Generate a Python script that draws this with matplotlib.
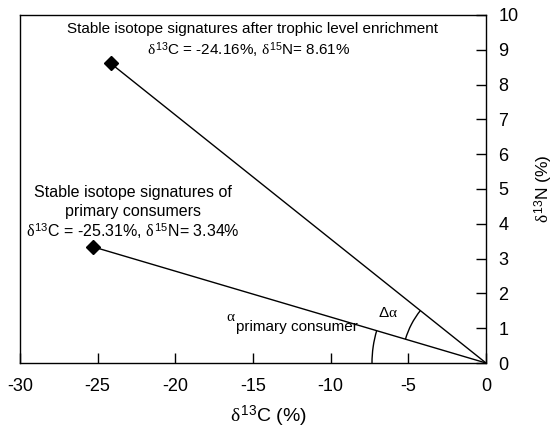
import numpy as np
import matplotlib
matplotlib.use('Agg')
import matplotlib.pyplot as plt
from matplotlib.patches import Arc

plt.rcParams['font.family'] = ['Liberation Sans', 'DejaVu Sans']
plt.rcParams['mathtext.fontset'] = 'custom'
plt.rcParams['mathtext.rm'] = 'Liberation Sans'
plt.rcParams['mathtext.it'] = 'Liberation Serif'
plt.rcParams['mathtext.bf'] = 'Liberation Sans:bold'

# isotope signatures (d13C, d15N)
labels = ['primary consumers', 'after trophic level enrichment']
d13c = [-25.31, -24.16]
d15n = [3.34, 8.61]
origin = (0.0, 0.0)
x_ticks = [-30, -25, -20, -15, -10, -5, 0]
y_ticks = [0, 1, 2, 3, 4, 5, 6, 7, 8, 9, 10]

fig = plt.figure(figsize=(5.56, 4.30), dpi=100)
ax = fig.add_axes([20/556, 1 - 363/430, 466/556, 348/430])

for x, y in zip(d13c, d15n):
    ax.plot([x, origin[0]], [y, origin[1]], color='black', lw=1.0)
ax.plot(d13c, d15n, linestyle='none', marker='D', ms=7, color='black')

ax.set_xlim(-30, 0)
ax.set_ylim(0, 10)
ax.set_xticks(x_ticks)
ax.set_yticks(y_ticks)
ax.set_xticklabels([str(t) for t in x_ticks])
ax.yaxis.tick_right()
ax.yaxis.set_label_position('right')
ax.tick_params(axis='both', direction='in', length=7, width=1, labelsize=13)
ax.tick_params(axis='x', pad=11)
ax.tick_params(axis='y', pad=9)
for s in ax.spines.values():
    s.set_linewidth(1.0)

ax.set_xlabel(r'$\delta^{13}$C (%)', fontsize=14)
ax.xaxis.set_label_coords((268 - 20) / 466, -41 / 348)
ax.set_ylabel(r'$\delta^{13}$N (%)', fontsize=12.5)
ax.yaxis.set_label_coords((533 - 20) / 466, 0.5)

# angle arcs (radius in pixels, angles in data space)
px = 466 / 30.0
py = 348 / 10.0
a_prim = np.degrees(np.arctan2(d15n[0], d13c[0]))
a_top = np.degrees(np.arctan2(d15n[1], d13c[1]))
r1, r2 = 114, 84
ax.add_patch(Arc(origin, 2*r1/px, 2*r1/py, theta1=a_prim, theta2=180, color='black', lw=1.0))
ax.add_patch(Arc(origin, 2*r2/px, 2*r2/py, theta1=a_top, theta2=a_prim, color='black', lw=1.0))

ax.text(-6.3, 1.44, r'$\Delta\alpha$', fontsize=11, ha='center', va='center')
ax.text(-16.45, 1.32, r'$\alpha$', fontsize=11, ha='center', va='center')
ax.text(-16.1, 1.04, 'primary consumer', fontsize=11, ha='left', va='center')

ax.text(-15.05, 9.6, 'Stable isotope signatures after trophic level enrichment',
        fontsize=11, ha='center', va='center')
ax.text(-15.25, 8.98, r'$\delta^{13}$C = -24.16%, $\delta^{15}$N= 8.61%',
        fontsize=11, ha='center', va='center')

ax.text(-22.72, 4.89, 'Stable isotope signatures of', fontsize=11.5, ha='center', va='center')
ax.text(-22.72, 4.34, 'primary consumers', fontsize=11.5, ha='center', va='center')
ax.text(-22.72, 3.80, r'$\delta^{13}$C = -25.31%, $\delta^{15}$N= 3.34%', fontsize=11.5,
        ha='center', va='center')

fig.savefig('out.png', dpi=100)
